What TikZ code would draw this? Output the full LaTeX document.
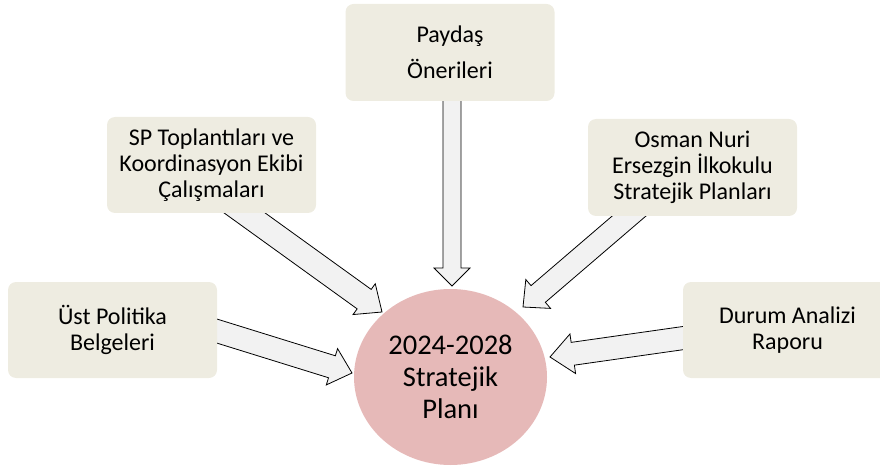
\documentclass[tikz,border=0pt]{standalone}
\usepackage{fontspec}
\setmainfont{Carlito}
\usetikzlibrary{calc,shapes.geometric}
\definecolor{boxfill}{HTML}{EEECE1}
\definecolor{planfill}{HTML}{E6B9B8}
\definecolor{arrfill}{HTML}{F2F2F2}
\tikzset{
  srcbox/.style={draw=none, fill=boxfill, rounded corners=8pt, minimum width=209pt, minimum height=96pt, align=center, inner sep=0pt, font=\fontsize{24}{26}\selectfont},
  planbox/.style={ellipse, draw=none, fill=planfill, minimum width=193pt, minimum height=176pt, align=center, inner sep=0pt, font=\fontsize{28.5}{32}\selectfont},
  blockarr/.style={draw=black, line width=0.8pt, fill=arrfill, line join=miter}
}
\newcommand\blockarrow[6]{%
  \coordinate (#6hb) at ($(#2)!#5!(#1)$);
  \draw[blockarr] ($(#1)!#3!90:(#2)$) -- ($(#6hb)!#3!90:(#2)$) -- ($(#6hb)!#4!90:(#2)$) -- (#2)
    -- ($(#6hb)!#4!-90:(#2)$) -- ($(#6hb)!#3!-90:(#2)$) -- ($(#1)!#3!-90:(#2)$) -- cycle;
}
\begin{document}
\begin{tikzpicture}[x=1pt,y=-1pt]
\useasboundingbox (0,0) rectangle (880,470);
% arrow anchor points
\coordinate (s1) at (452,90);    \coordinate (t1) at (452,286);
\coordinate (s2) at (227.2,200.4); \coordinate (t2) at (382,312);
\coordinate (s3) at (200.9,326.1); \coordinate (t3) at (352,373);
\coordinate (s4) at (641.8,205.1); \coordinate (t4) at (523,307);
\coordinate (s5) at (694.9,336.4); \coordinate (t5) at (550,357);
% arrows
\blockarrow{s1}{t1}{9pt}{18pt}{18pt}{a1}
\blockarrow{s2}{t2}{12pt}{19pt}{22pt}{a2}
\blockarrow{s3}{t3}{11.5pt}{19pt}{21pt}{a3}
\blockarrow{s4}{t4}{11pt}{19pt}{20pt}{a4}
\blockarrow{s5}{t5}{11.5pt}{20pt}{23pt}{a5}
% boxes
\node[srcbox, minimum height=97pt, font=\fontsize{24}{36}\selectfont] (pay) at (450,52.5) {Paydaş\\Önerileri};
\node[srcbox] (sp) at (211.5,165) {SP Toplantıları ve\\Koordinasyon Ekibi\\Çalışmaları};
\node[srcbox] (ust) at (112.5,330) {Üst Politika\\Belgeleri};
\node[srcbox, minimum height=97pt] (osm) at (692.5,167.5) {Osman Nuri\\Ersezgin İlkokulu\\Stratejik Planları};
\node[srcbox] (dur) at (787.5,330) {Durum Analizi\\Raporu};
\node[planbox] (plan) at (450.5,377) {2024-2028\\Stratejik\\Planı};
\end{tikzpicture}
\end{document}
